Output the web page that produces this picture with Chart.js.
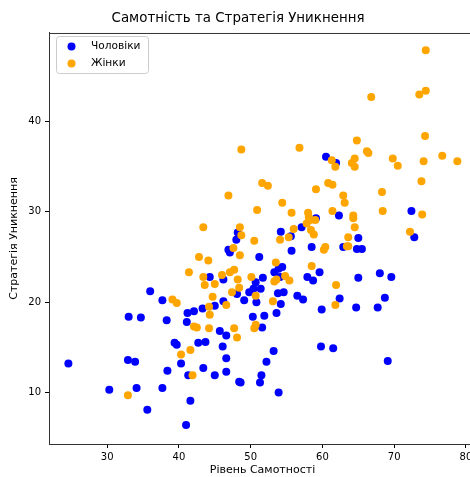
<!DOCTYPE html>
<html>
<head>
<meta charset="utf-8">
<script src="https://cdn.jsdelivr.net/npm/chart.js@4/dist/chart.umd.min.js"></script>
<style>
  html, body { margin: 0; padding: 0; background: #fff; overflow: hidden; }
  #wrap { width: 500px; height: 477px; }
</style>
</head>
<body>
<div id="wrap"><canvas id="scatterChart" width="500" height="477"></canvas></div>
<script>
// Дані: Рівень Самотності (x) та Стратегія Уникнення (y)
const menLoneliness = [
  60.5, 61.9, 72.4, 72.8, 62.3, 59.1, 57.1, 54.2, 55.6, 48.2,
  48.0, 46.9, 47.1, 55.7, 58.5, 62.9, 65.0, 64.8, 65.5, 51.2,
  53.3, 53.9, 54.4, 54.1, 51.7, 50.7, 50.4, 51.4, 49.8, 48.1,
  49.1, 50.8, 53.8, 54.6, 56.5, 57.3, 57.9, 58.7, 59.6, 62.4,
  65.0, 68.0, 69.6, 68.7, 59.9, 64.7, 67.7, 44.3, 46.2, 36.0,
  37.7, 46.2, 45.0, 43.3, 41.2, 42.1, 33.0, 34.7, 38.3, 50.3,
  51.9, 53.6, 54.2, 41.1, 51.6, 45.7, 46.6, 39.4, 39.7, 42.7,
  43.7, 46.1, 53.2, 59.8, 61.5, 69.1, 24.6, 32.9, 33.9, 40.3,
  46.6, 52.2, 38.4, 43.4, 46.6, 41.3, 45.0, 51.5, 48.4, 48.6,
  51.3, 30.3, 34.1, 37.7, 53.9, 41.6, 35.6, 41.0
];
const menAvoidance = [
  36.1, 35.4, 30.1, 27.2, 29.6, 29.3, 28.3, 27.8, 27.3, 27.7,
  26.9, 25.8, 25.5, 25.7, 26.1, 26.1, 27.1, 25.9, 25.9, 25.0,
  23.3, 23.7, 23.9, 22.8, 22.7, 22.2, 21.5, 21.5, 21.1, 20.9,
  20.2, 20.0, 21.0, 21.1, 20.7, 20.3, 22.8, 22.4, 23.3, 20.4,
  22.7, 23.2, 22.8, 20.5, 19.2, 19.4, 19.4, 22.8, 22.5, 21.2,
  20.2, 20.1, 19.6, 19.3, 18.8, 19.0, 18.4, 18.3, 18.0, 18.4,
  18.5, 18.8, 19.8, 17.8, 17.2, 16.8, 16.3, 15.5, 15.3, 15.5,
  15.6, 15.1, 14.6, 15.1, 14.9, 13.5, 13.2, 13.6, 13.4, 13.2,
  13.8, 13.4, 12.4, 12.7, 12.3, 11.9, 11.9, 11.9, 11.2, 11.1,
  11.1, 10.3, 10.5, 10.5, 10.0, 9.1, 8.1, 6.4
];
const womenLoneliness = [
  74.4, 74.4, 73.5, 66.8, 74.3, 48.7, 56.8, 64.8, 66.2, 66.4,
  61.3, 61.8, 64.5, 64.1, 64.5, 69.8, 70.5, 74.1, 76.7, 78.8,
  51.6, 52.4, 60.8, 61.4, 73.8, 46.9, 59.1, 62.9, 63.1, 68.3,
  54.4, 50.9, 55.7, 58.0, 58.1, 61.4, 68.4, 73.9, 64.3, 64.3,
  57.8, 58.3, 59.0, 58.4, 58.8, 56.0, 43.4, 48.5, 48.7, 50.5,
  54.1, 55.3, 64.5, 63.6, 63.4, 63.6, 60.2, 60.4, 72.2, 47.6,
  48.5, 42.8, 44.1, 53.5, 58.5, 41.4, 43.4, 43.6, 45.0, 46.0,
  47.1, 47.7, 48.2, 48.4, 47.4, 50.1, 53.3, 53.6, 54.8, 55.4,
  50.7, 44.7, 61.9, 39.1, 39.7, 46.6, 44.2, 44.3, 53.1, 61.8,
  42.1, 42.5, 44.2, 47.7, 48.1, 50.5, 50.7, 40.3, 41.6, 41.9,
  32.9
];
const womenAvoidance = [
  47.9, 43.4, 43.0, 42.7, 38.4, 36.9, 37.1, 37.9, 36.7, 36.5,
  35.7, 35.0, 35.9, 35.4, 35.0, 35.9, 35.1, 35.6, 36.2, 35.6,
  33.2, 32.9, 33.2, 33.0, 33.4, 31.8, 32.5, 31.8, 31.0, 32.2,
  31.0, 30.2, 29.9, 29.9, 29.4, 30.1, 30.1, 29.7, 29.6, 29.3,
  28.7, 29.1, 29.1, 28.0, 27.5, 28.1, 28.3, 28.3, 27.4, 26.8,
  26.9, 27.2, 28.3, 27.2, 26.2, 26.2, 25.8, 26.1, 27.8, 26.0,
  25.2, 25.0, 24.6, 24.4, 24.0, 23.3, 22.8, 21.9, 22.0, 23.0,
  23.3, 23.6, 22.5, 21.6, 21.1, 22.8, 22.3, 22.5, 22.9, 22.4,
  20.7, 20.6, 21.9, 20.3, 19.9, 19.7, 19.5, 18.6, 20.1, 19.7,
  17.3, 17.2, 17.1, 17.1, 16.1, 17.1, 17.5, 14.2, 14.7, 11.9,
  9.7
];
const xTicks = [30, 40, 50, 60, 70, 80];
const yTicks = [10, 20, 30, 40];

const toPoints = (xs, ys) => xs.map((x, i) => ({ x: x, y: ys[i] }));
const FONT = 'DejaVu Sans';

// Рамка навколо області графіка (як у matplotlib)
const framePlugin = {
  id: 'frame',
  afterDraw(chart) {
    const { ctx, chartArea: a } = chart;
    ctx.save();
    ctx.strokeStyle = '#333';
    ctx.lineWidth = 1;
    ctx.strokeRect(a.left + 0.5, a.top + 0.5, a.right - a.left, a.bottom - a.top);
    ctx.restore();
  }
};

// Легенда всередині графіка, зліва вгорі
const insideLegend = {
  id: 'insideLegend',
  afterDatasetsDraw(chart) {
    const { ctx, chartArea: a } = chart;
    const x = a.left + 7, y = a.top + 3, w = 92, h = 37, r = 3;
    ctx.save();
    ctx.beginPath();
    ctx.roundRect(x + 0.5, y + 0.5, w, h, r);
    ctx.fillStyle = 'rgba(255,255,255,0.8)';
    ctx.fill();
    ctx.strokeStyle = '#cccccc';
    ctx.lineWidth = 1;
    ctx.stroke();
    ctx.font = '10.6px "' + FONT + '"';
    ctx.textBaseline = 'middle';
    chart.data.datasets.forEach((ds, i) => {
      const cy = y + 10.5 + i * 17;
      ctx.beginPath();
      ctx.arc(x + 15.5, cy, 4, 0, Math.PI * 2);
      ctx.fillStyle = ds.backgroundColor;
      ctx.fill();
      ctx.fillStyle = '#000';
      ctx.fillText(ds.label, x + 35, cy);
    });
    ctx.restore();
  }
};

new Chart(document.getElementById('scatterChart'), {
  type: 'scatter',
  data: {
    datasets: [
      {
        label: 'Чоловіки',
        data: toPoints(menLoneliness, menAvoidance),
        backgroundColor: '#0000ff',
        borderWidth: 0,
        pointRadius: 4,
        order: 2
      },
      {
        label: 'Жінки',
        data: toPoints(womenLoneliness, womenAvoidance),
        backgroundColor: '#ffa500',
        borderWidth: 0,
        pointRadius: 4,
        order: 1
      }
    ]
  },
  options: {
    responsive: false,
    animation: false,
    events: [],
    layout: { padding: { left: 0, right: 24, top: 0, bottom: 0 } },
    plugins: {
      legend: { display: false },
      tooltip: { enabled: false },
      title: {
        display: true,
        text: 'Самотність та Стратегія Уникнення',
        color: '#000',
        font: { family: FONT, size: 13.4, weight: 'normal', lineHeight: 1.2 },
        padding: { top: 10, bottom: 6.9 }
      }
    },
    scales: {
      x: {
        type: 'linear',
        min: 21.9,
        max: 81.4,
        afterBuildTicks: s => { s.ticks = xTicks.map(v => ({ value: v })); },
        afterFit: s => { s.height = 33; },
        grid: { display: true, drawOnChartArea: false, drawTicks: true, tickLength: 4, color: '#000' },
        border: { display: true, color: '#333', width: 1 },
        ticks: { color: '#000', padding: 3, font: { family: FONT, size: 10 }, maxRotation: 0 },
        title: {
          display: true,
          text: 'Рівень Самотності',
          color: '#000',
          font: { family: FONT, size: 11, lineHeight: 1.2 },
          padding: { top: 1, bottom: 0 }
        }
      },
      y: {
        type: 'linear',
        min: 4.3,
        max: 49.8,
        afterBuildTicks: s => { s.ticks = yTicks.map(v => ({ value: v })); },
        afterFit: s => { s.width = 49; },
        grid: { display: true, drawOnChartArea: false, drawTicks: true, tickLength: 4, color: '#000' },
        border: { display: true, color: '#333', width: 1 },
        ticks: { color: '#000', padding: 4, font: { family: FONT, size: 10 } },
        title: {
          display: true,
          text: 'Стратегія Уникнення',
          color: '#000',
          font: { family: FONT, size: 11, lineHeight: 1.2 },
          padding: { top: 7.5, bottom: 0 }
        }
      }
    }
  },
  plugins: [framePlugin, insideLegend]
});
</script>
</body>
</html>
